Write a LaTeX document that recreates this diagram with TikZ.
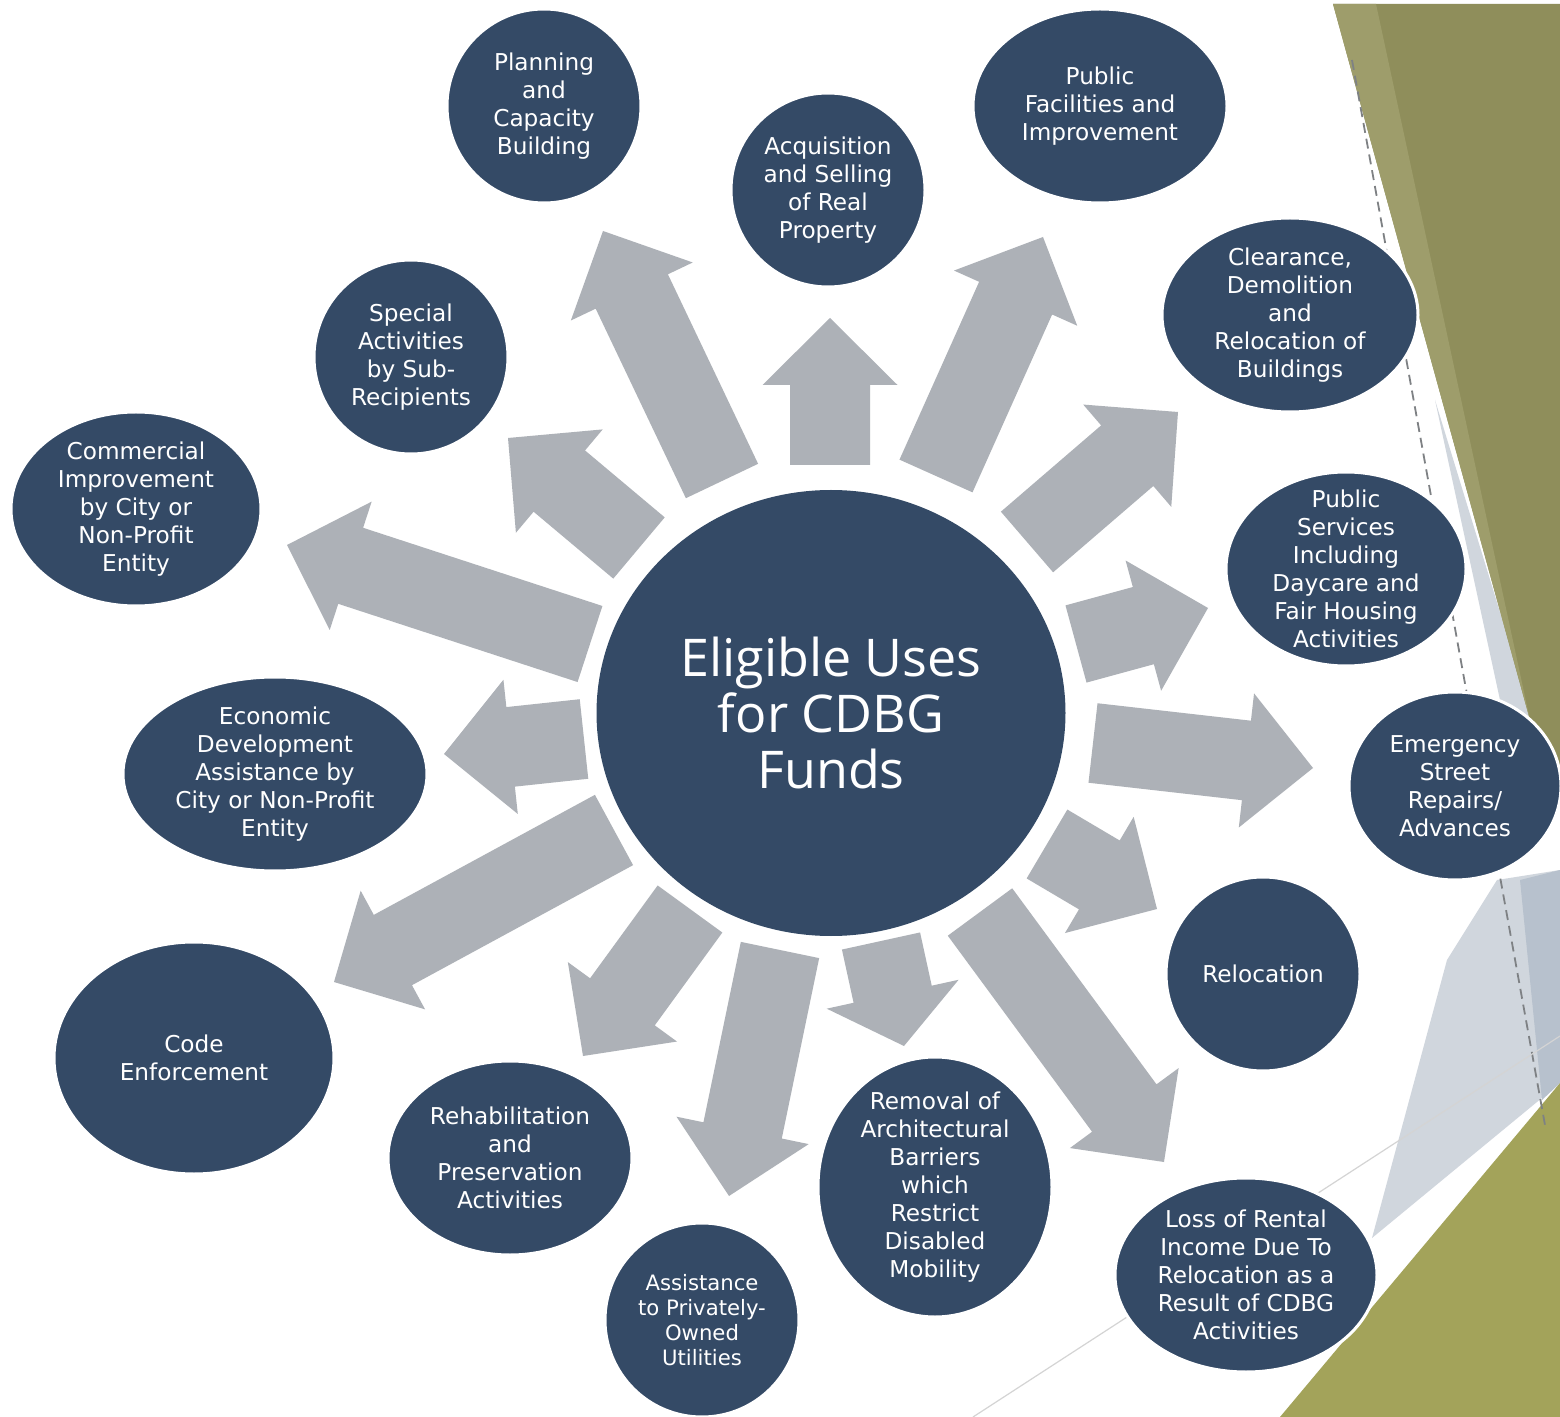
\documentclass[tikz,border=0pt]{standalone}
\usepackage{fontspec}
\setmainfont{DejaVu Sans}
\newfontfamily\hubfont{Open Sans}
\usetikzlibrary{shapes.geometric,calc}
\definecolor{navy}{HTML}{344A66}
\definecolor{arrowgray}{HTML}{ADB1B7}
\definecolor{olivedark}{HTML}{8F8E5B}
\definecolor{olivelight}{HTML}{9E9D6B}
\definecolor{olivebottom}{HTML}{A3A35A}
\definecolor{paleblue}{HTML}{D0D6DD}
\definecolor{greyblue}{HTML}{B7C1CD}
\definecolor{dashgray}{HTML}{7E8184}
\definecolor{linegray}{HTML}{D4D4D4}
\tikzset{
    fundarrow/.style={fill=arrowgray},
    bubble/.style={ellipse, fill=navy, draw=white, line width=1.5pt, inner sep=0pt},
    bubbletext/.style={text=white, align=center, inner sep=0pt, font=\fontsize{11.6}{14}\selectfont}
}
% block arrow from tail to tip: [head length in px]{tail}{tip}
\newcommand{\fundarrow}[3][67]{%
    \coordinate (hb) at ($(#3)!#1*0.5pt!(#2)$);
    \fill[fundarrow] ($(#2)!20pt!90:(#3)$) -- ($(hb)!20pt!90:(#3)$) -- ($(hb)!33.75pt!90:(#3)$) -- (#3)
        -- ($(hb)!33.75pt!-90:(#3)$) -- ($(hb)!20pt!-90:(#3)$) -- ($(#2)!20pt!-90:(#3)$) -- cycle;
}

\begin{document}
\begin{tikzpicture}[x=0.5pt, y=-0.5pt,
            hub/.style={ellipse, fill=navy, minimum width=234.5pt, minimum height=223pt, inner sep=0pt,
                text=white, align=center, font=\hubfont\fontsize{26}{28}\selectfont}
        ]
            \useasboundingbox (0,0) rectangle (1560,1417);
            
            % Backdrop
            \fill[white] (0,0) rectangle (1560,1417);
            \fill[paleblue] (1435,400) -- (1533,720) -- (1560,780) -- (1500,700) -- cycle;
            \fill[paleblue] (1497,880) -- (1560,870) -- (1560,1083) -- (1372,1238) -- (1447,960) -- cycle;
            \fill[greyblue] (1520,880) -- (1560,870) -- (1560,1083) -- (1542,1100) -- cycle;
            \fill[olivedark] (1333,4) -- (1560,4) -- (1560,800) -- (1530,720) -- cycle;
            \fill[olivelight] (1333,4) -- (1376,4) -- (1530,720) -- cycle;
            \fill[olivebottom] (1280,1417) -- (1560,1083) -- (1560,1417) -- cycle;
            \draw[dashgray, dash pattern=on 5pt off 3pt, line width=0.9pt] (1352,60) -- (1545,1125);
            \draw[linegray, line width=0.6pt] (973,1417) -- (1560,1036);
            
            % Arrow ends
            \coordinate (planning tail) at (722,481);     \coordinate (planning tip) at (603,231);
            \coordinate (acquisition tail) at (830,465);  \coordinate (acquisition tip) at (830,318);
            \coordinate (facilities tail) at (936,476);   \coordinate (facilities tip) at (1043,237);
            \coordinate (clearance tail) at (1027,542);   \coordinate (clearance tip) at (1178,412);
            \coordinate (services tail) at (1076,644);    \coordinate (services tip) at (1208,608);
            \coordinate (emergency tail) at (1093,743);   \coordinate (emergency tip) at (1313,768);
            \coordinate (relocation tail) at (1047,844);  \coordinate (relocation tip) at (1157,909);
            \coordinate (rental tail) at (980,912);       \coordinate (rental tip) at (1164,1162);
            \coordinate (removal tail) at (881,941);      \coordinate (removal tip) at (904,1046);
            \coordinate (assistance tail) at (780,950);   \coordinate (assistance tip) at (729,1196);
            \coordinate (rehab tail) at (690,909);        \coordinate (rehab tip) at (583,1056);
            \coordinate (code tail) at (614,830);         \coordinate (code tip) at (334,982);
            \coordinate (economic tail) at (584,739);     \coordinate (economic tip) at (444,754);
            \coordinate (commercial tail) at (590,644);   \coordinate (commercial tip) at (287,545);
            \coordinate (special tail) at (639,548);      \coordinate (special tip) at (508,438);
            
            % Arrows
            \fundarrow{planning tail}{planning tip}
            \fundarrow{acquisition tail}{acquisition tip}
            \fundarrow{facilities tail}{facilities tip}
            \fundarrow{clearance tail}{clearance tip}
            \fundarrow{services tail}{services tip}
            \fundarrow{emergency tail}{emergency tip}
            \fundarrow{relocation tail}{relocation tip}
            \fundarrow{rental tail}{rental tip}
            \fundarrow[53]{removal tail}{removal tip}
            \fundarrow{assistance tail}{assistance tip}
            \fundarrow{rehab tail}{rehab tip}
            \fundarrow{code tail}{code tip}
            \fundarrow{economic tail}{economic tip}
            \fundarrow{commercial tail}{commercial tip}
            \fundarrow{special tail}{special tip}
            
            % Centre
            \node[hub] (hub) at (831,713) {Eligible Uses\\for CDBG\\Funds};
            
            % Uses, clockwise from the top
            \node[bubble, minimum width=97pt, minimum height=97pt] (planning) at (544,106) {};
            \node[bubbletext] (planning text) at (planning) {Planning\\and\\Capacity\\Building};
            
            \node[bubble, minimum width=97pt, minimum height=97pt] (acquisition) at (828,190) {};
            \node[bubbletext] (acquisition text) at (acquisition) {Acquisition\\and Selling\\of Real\\Property};
            
            \node[bubble, minimum width=127pt, minimum height=97pt] (facilities) at (1100,106) {};
            \node[bubbletext] (facilities text) at (facilities) {Public\\Facilities and\\Improvement};
            
            \node[bubble, minimum width=128pt, minimum height=97pt] (clearance) at (1290,315) {};
            \node[bubbletext] (clearance text) at (clearance) {Clearance,\\Demolition\\and\\Relocation of\\Buildings};
            
            \node[bubble, minimum width=120pt, minimum height=97pt] (services) at (1346,569) {};
            \node[bubbletext] (services text) at (services) {Public\\Services\\Including\\Daycare and\\Fair Housing\\Activities};
            
            \node[bubble, minimum width=106pt, minimum height=94pt] (emergency) at (1455,786) {};
            \node[bubbletext] (emergency text) at (emergency) {Emergency\\Street\\Repairs/\\Advances};
            
            \node[bubble, minimum width=97pt, minimum height=97pt] (relocation) at (1263,974) {};
            \node[bubbletext] (relocation text) at (relocation) {Relocation};
            
            \node[bubble, minimum width=131pt, minimum height=97pt] (rental) at (1246,1275) {};
            \node[bubbletext] (rental text) at (rental) {Loss of Rental\\Income Due To\\Relocation as a\\Result of CDBG\\Activities};
            
            \node[bubble, minimum width=117pt, minimum height=130pt] (removal) at (935,1187) {};
            \node[bubbletext] (removal text) at (removal) {Removal of\\Architectural\\Barriers\\which\\Restrict\\Disabled\\Mobility};
            
            \node[bubble, minimum width=97pt, minimum height=97pt] (assistance) at (702,1320) {};
            \node[bubbletext, font=\fontsize{10.6}{12.5}\selectfont] (assistance text) at (assistance) {Assistance\\to Privately-\\Owned\\Utilities};
            
            \node[bubble, minimum width=122pt, minimum height=97pt] (rehab) at (510,1158) {};
            \node[bubbletext] (rehab text) at (rehab) {Rehabilitation\\and\\Preservation\\Activities};
            
            \node[bubble, minimum width=140pt, minimum height=116pt] (code) at (194,1058) {};
            \node[bubbletext] (code text) at (code) {Code\\Enforcement};
            
            \node[bubble, minimum width=152pt, minimum height=97pt] (economic) at (275,774) {};
            \node[bubbletext] (economic text) at (economic) {Economic\\Development\\Assistance by\\City or Non-Profit\\Entity};
            
            \node[bubble, minimum width=125pt, minimum height=97pt] (commercial) at (136,509) {};
            \node[bubbletext] (commercial text) at (commercial) {Commercial\\Improvement\\by City or\\Non-Profit\\Entity};
            
            \node[bubble, minimum width=97pt, minimum height=97pt] (special) at (411,357) {};
            \node[bubbletext] (special text) at (special) {Special\\Activities\\by Sub-\\Recipients};
            
        \end{tikzpicture}
\end{document}
